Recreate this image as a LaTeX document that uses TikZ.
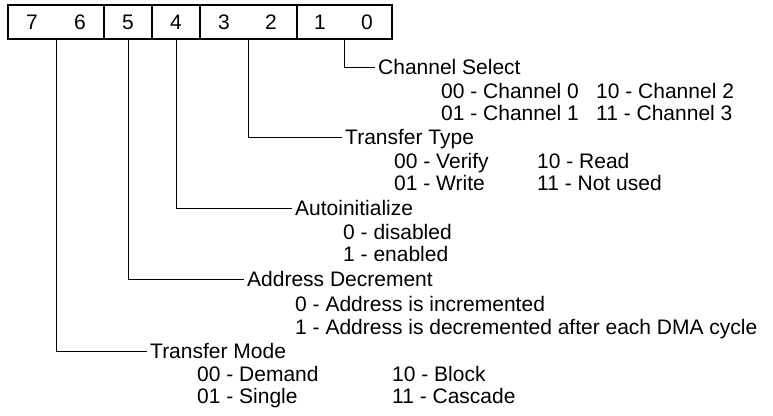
\documentclass[tikz,border=0pt]{standalone}
\usepackage{fontspec}
\setmainfont{Liberation Sans}
\begin{document}
\begin{tikzpicture}[x=1pt,y=-1pt,
  cell/.style={draw,line width=1.1pt,minimum height=34pt,inner sep=0pt},
  digit/.style={inner sep=0pt,font=\fontsize{21}{25}\selectfont},
  lbl/.style={anchor=west,inner xsep=3pt,inner ysep=0pt,text height=15pt,text depth=0pt,font=\fontsize{21}{25}\selectfont},
  conn/.style={line width=1pt}]
\useasboundingbox (0,0) rectangle (773,415);
% register cells
\node[cell,minimum width=96pt] (c76) at (56,22) {};
\node[cell,minimum width=48pt] (c5) at (128,22) {};
\node[cell,minimum width=48pt] (c4) at (176,22) {};
\node[cell,minimum width=97pt] (c32) at (248.5,22) {};
\node[cell,minimum width=95pt] (c10) at (344.5,22) {};
% bit numbers
\node[digit] (b7) at (32,22) {7};
\node[digit] (b6) at (80,22) {6};
\node[digit] (b5) at (128,22) {5};
\node[digit] (b4) at (176,22) {4};
\node[digit] (b3) at (224,22) {3};
\node[digit] (b2) at (271,22) {2};
\node[digit] (b1) at (320,22) {1};
\node[digit] (b0) at (367,22) {0};
% labels
\node[lbl] (cs) at (375,67) {Channel Select};
\node[lbl] (cs0) at (438,91) {00 - Channel 0};
\node[lbl] (cs1) at (438,113) {01 - Channel 1};
\node[lbl] (cs2) at (593,91) {10 - Channel 2};
\node[lbl] (cs3) at (593,113) {11 - Channel 3};
\node[lbl] (tt) at (342,137) {Transfer Type};
\node[lbl] (tt0) at (391,161) {00 - Verify};
\node[lbl] (tt1) at (391,183) {01 - Write};
\node[lbl] (tt2) at (534,161) {10 - Read};
\node[lbl] (tt3) at (534,183) {11 - Not used};
\node[lbl] (ai) at (292,208) {Autoinitialize};
\node[lbl] (ai0) at (340,232) {0 - disabled};
\node[lbl] (ai1) at (340,254) {1 - enabled};
\node[lbl] (ad) at (244,279) {Address Decrement};
\node[lbl] (ad0) at (292,304) {0 - Address is incremented};
\node[lbl] (ad1) at (292,327) {1 - Address is decremented after each DMA cycle};
\node[lbl] (tm) at (147,351) {Transfer Mode};
\node[lbl] (tm0) at (194,374) {00 - Demand};
\node[lbl] (tm1) at (194,396) {01 - Single};
\node[lbl] (tm2) at (389,374) {10 - Block};
\node[lbl] (tm3) at (389,396) {11 - Cascade};
% connectors
\draw[conn] (c10.south) |- (cs.west);
\draw[conn] (c32.south) |- (tt.west);
\draw[conn] (c4.south) |- (ai.west);
\draw[conn] (c5.south) |- (ad.west);
\draw[conn] (c76.south) |- (tm.west);
\end{tikzpicture}
\end{document}
